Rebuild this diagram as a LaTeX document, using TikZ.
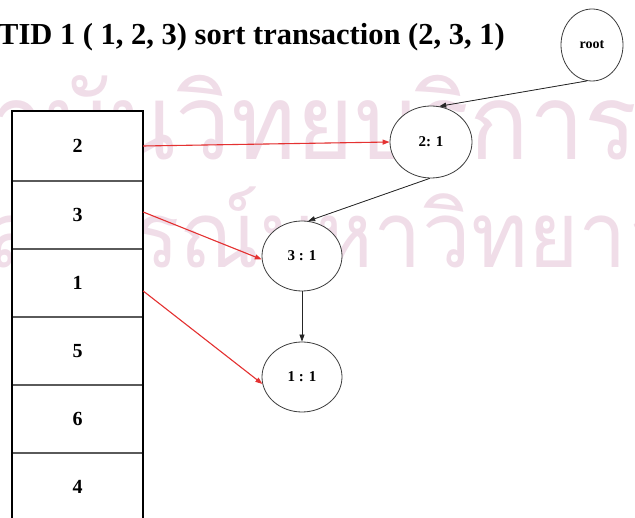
\documentclass[tikz,border=0pt]{standalone}
\usepackage{fontspec}
\setmainfont{Liberation Serif}
\newfontfamily\thaifont[Script=Thai,FakeStretch=0.94]{Loma}
\usetikzlibrary{shapes.geometric,arrows.meta}
\definecolor{wmark}{RGB}{240,221,232}
\definecolor{linkred}{RGB}{228,50,50}
\definecolor{rim}{RGB}{60,60,60}
\definecolor{rule}{RGB}{90,90,90}
\begin{document}
\begin{tikzpicture}[x=1pt,y=-1pt,
  wm/.style={anchor=base west,inner sep=0pt,text=wmark},
  tnode/.style={ellipse,draw=rim,line width=0.8pt,fill=white,inner sep=0pt,
    font=\fontsize{15}{15}\selectfont\bfseries},
  cell/.style={rectangle,inner sep=0pt,minimum width=131pt,
    font=\fontsize{20}{20}\selectfont\bfseries},
  blk/.style={-{Triangle[length=7pt,width=5pt]},line width=0.8pt,draw=black!85,fill=black!85},
  redl/.style={-{Triangle[length=7pt,width=5pt]},line width=1.1pt,draw=linkred,fill=linkred}]
\useasboundingbox (0,0) rectangle (635,518);
\clip (0,0) rectangle (635,518);

% background watermark
\node[wm,font=\thaifont\fontsize{105}{105}\selectfont] (wmA) at (-130,160) {สถาบันวิทยบริการ};
\node[wm,font=\thaifont\fontsize{92}{92}\selectfont] (wmB) at (-173,268) {จุฬาลงกรณ์มหาวิทยาลัย};

% heading
\node[anchor=base west,inner sep=0pt,font=\fontsize{30.5}{30.5}\selectfont\bfseries] (title) at (-2,45)
  {TID 1 ( 1, 2, 3) sort transaction (2, 3, 1)};

% sorted transaction column
\fill[white] (12,111) rectangle (143,530);
\node[cell,minimum height=70pt] (r1) at (77.5,146) {2};
\node[cell,minimum height=68pt] (r2) at (77.5,215) {3};
\node[cell,minimum height=68pt] (r3) at (77.5,283) {1};
\node[cell,minimum height=68pt] (r4) at (77.5,351) {5};
\node[cell,minimum height=68pt] (r5) at (77.5,419) {6};
\node[cell,minimum height=68pt] (r6) at (77.5,487) {4};
\foreach \yy in {181,249,317,385,453}
  \draw[rule,line width=1.3pt] (12,\yy) -- (143,\yy);
\draw[black,line width=2.6pt] (12,530) -- (12,111) -- (143,111) -- (143,530);

% prefix tree
\node[tnode,minimum width=62pt,minimum height=72pt,font=\fontsize{14}{14}\selectfont\bfseries] (root) at (592,45) {root};
\node[tnode,minimum width=82pt,minimum height=72pt] (n21) at (431,142) {2: 1};
\node[tnode,minimum width=80pt,minimum height=70pt] (n31) at (302,256) {3 : 1};
\node[tnode,minimum width=80pt,minimum height=70pt] (n11) at (302,377) {1 : 1};

\draw[blk] (root.262) -- (n21.77);
\draw[blk] (n21.268) -- (n31.80);
\draw[blk] (n31.south) -- (n11.north);

% links from the column into the tree
\draw[redl] (r1.east) -- (n21.west);
\draw[redl] ([yshift=3pt]r2.east) -- (n31.185);
\draw[redl] ([yshift=-8pt]r3.east) -- (n11.190);
\end{tikzpicture}
\end{document}
